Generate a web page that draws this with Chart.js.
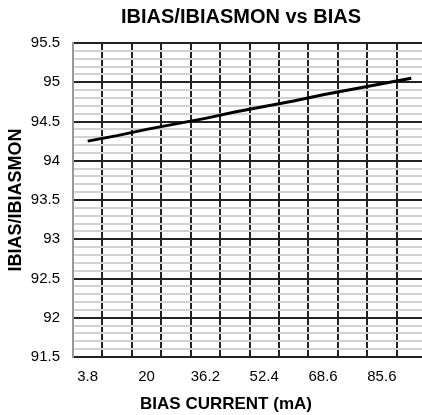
<!DOCTYPE html>
<html>
<head>
<meta charset="utf-8">
<script src="https://cdn.jsdelivr.net/npm/chart.js@4"></script>
<style>
    html, body { margin: 0; padding: 0; overflow: hidden; background: #fff; }
    #wrap { width: 426px; height: 415px; }
</style>
</head>
<body>
<div id="wrap"><canvas id="biasChart"></canvas></div>
<script>
// values
const biasCurrent = ['3.8', '11.9', '20', '28.1', '36.2', '44.3', '52.4', '60.5', '68.6', '76.7', '85.6', '93.7'];
const ratio = [94.25, 94.32, 94.40, 94.47, 94.54, 94.62, 94.69, 94.76, 94.84, 94.91, 94.98, 95.05];

const chartTitle = 'IBIAS/IBIASMON vs BIAS';
const xTitle = 'BIAS CURRENT (mA)';
const yTitle = 'IBIAS/IBIASMON';

const FONT = '"Liberation Sans", Arial, sans-serif';

function isMajor(v) {
    return Math.abs(v * 2 - Math.round(v * 2)) < 1e-6;
}

// title + x axis title are off-centre in the original, so draw them here
const titles = {
    id: 'titles',
    afterDraw(chart) {
        const { ctx, chartArea } = chart;
        ctx.save();
        ctx.fillStyle = '#000';
        ctx.textAlign = 'center';
        ctx.textBaseline = 'middle';
        ctx.font = 'bold 20px ' + FONT;
        ctx.fillText(chartTitle, chartArea.left + 168, 17);
        ctx.font = 'bold 17px ' + FONT;
        ctx.fillText(xTitle, chartArea.left + 153, chartArea.bottom + 47);
        ctx.restore();
    }
};

const ctx = document.getElementById('biasChart').getContext('2d');

new Chart(ctx, {
    type: 'line',
    data: {
        labels: biasCurrent,
        datasets: [{
            data: ratio,
            borderColor: '#000',
            borderWidth: 3,
            pointRadius: 0,
            tension: 0
        }]
    },
    options: {
        responsive: true,
        maintainAspectRatio: false,
        animation: false,
        layout: { padding: { top: 43, left: 0, right: 0, bottom: 0 } },
        plugins: {
            legend: { display: false },
            tooltip: { enabled: false },
            title: { display: false }
        },
        scales: {
            x: {
                type: 'category',
                offset: true,
                grid: {
                    offset: true,
                    drawTicks: false,
                    color: c => c.index === 0 ? '#999' : '#222',
                    lineWidth: 2
                },
                border: { color: '#222', width: 2 },
                ticks: {
                    autoSkip: false,
                    maxRotation: 0,
                    padding: 11,
                    color: '#000',
                    font: { family: FONT, size: 15 },
                    callback: function (val, i) {
                        return i % 2 === 0 ? this.getLabelForValue(val) : '';
                    }
                },
                afterFit: s => { s.height = 58; }
            },
            y: {
                min: 91.5,
                max: 95.5,
                grid: {
                    drawTicks: false,
                    color: c => (c.tick && isMajor(c.tick.value)) ? '#222' : '#d2d2d2',
                    lineWidth: 2
                },
                border: { color: '#999', width: 2 },
                ticks: {
                    stepSize: 0.1,
                    maxTicksLimit: 100,
                    autoSkip: false,
                    padding: 13,
                    color: '#000',
                    font: { family: FONT, size: 15 },
                    callback: v => isMajor(v) ? String(Math.round(v * 10) / 10) : ''
                },
                title: {
                    display: true,
                    text: yTitle,
                    color: '#000',
                    font: { family: FONT, size: 18, weight: 'bold' },
                    padding: { top: 5, bottom: 0 }
                },
                afterFit: s => { s.width = 73; }
            }
        }
    },
    plugins: [titles]
});
</script>
</body>
</html>
